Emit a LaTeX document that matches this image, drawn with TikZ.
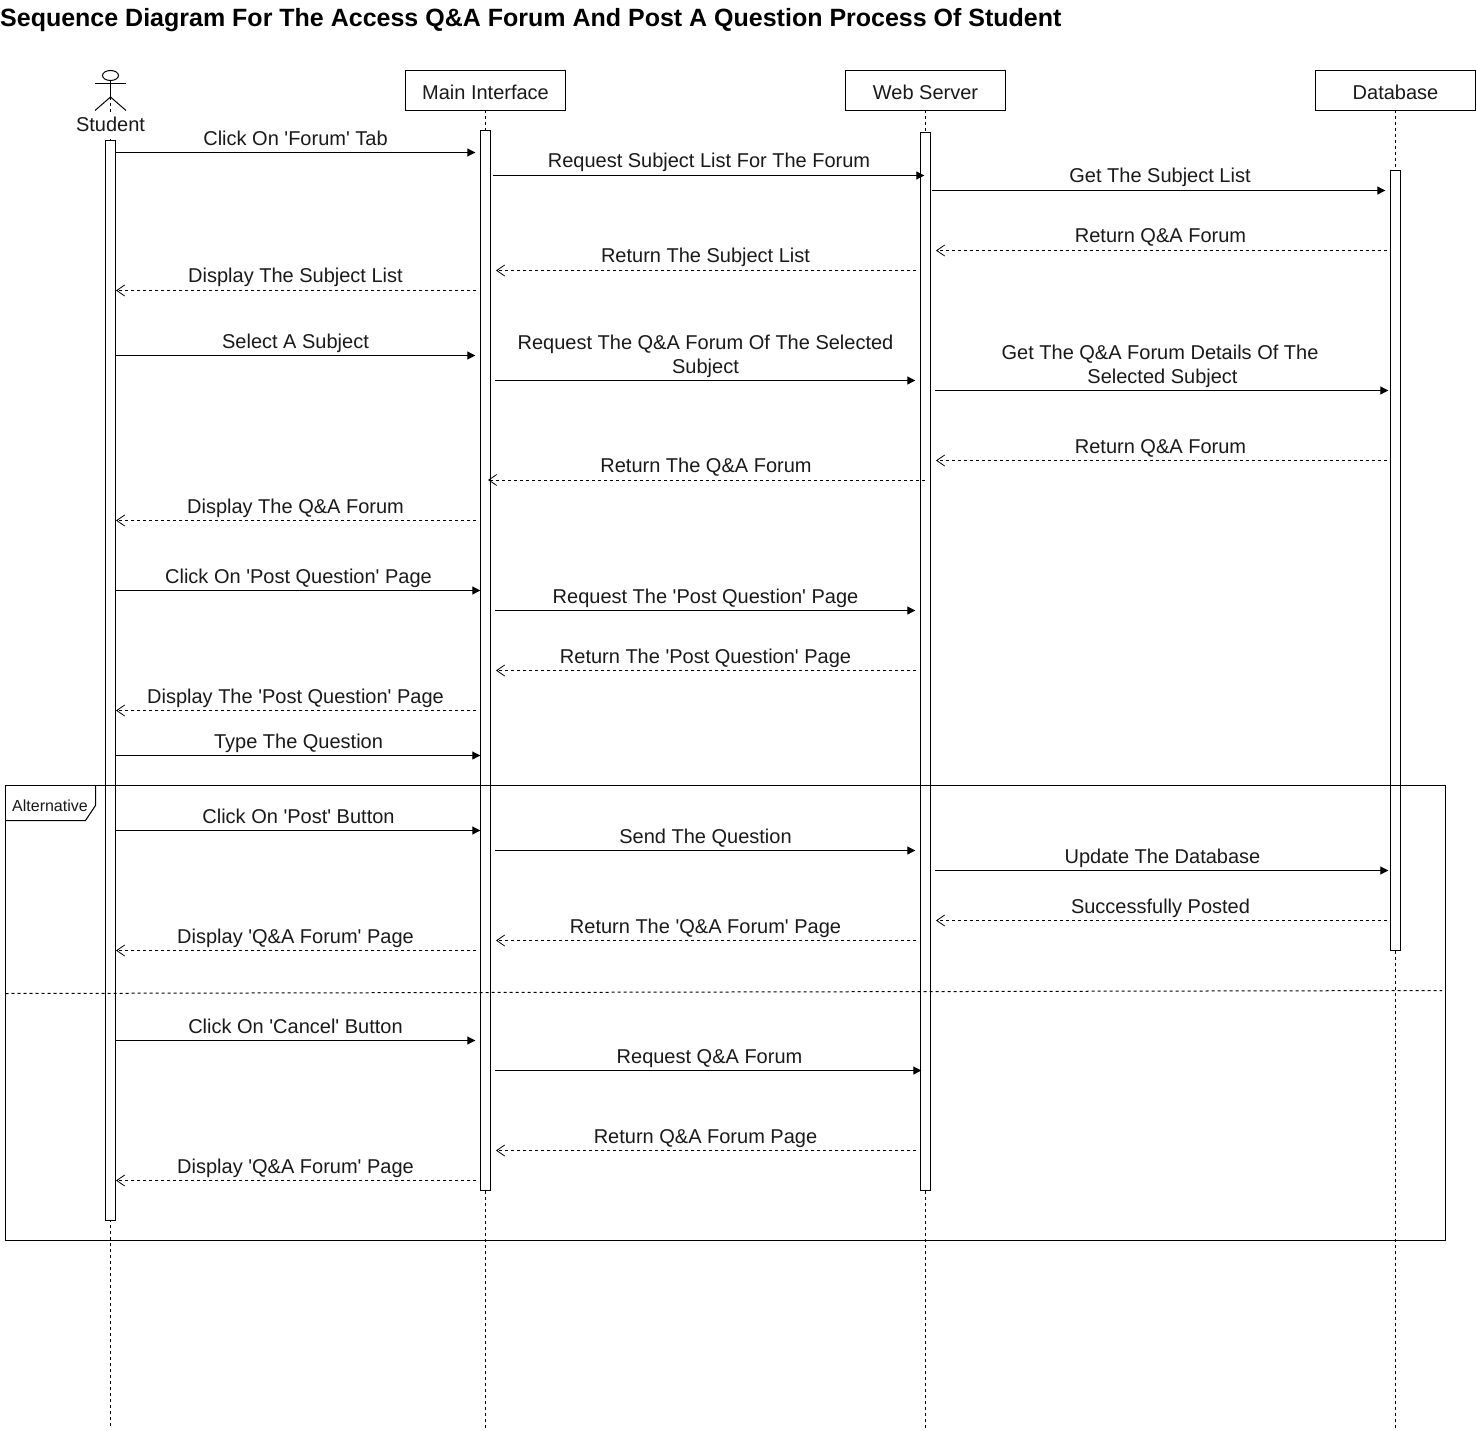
\documentclass[tikz,border=0pt]{standalone}
\usepackage{fontspec}
\newfontfamily\lib{Liberation Sans}
\usetikzlibrary{arrows.meta}
\definecolor{txt}{HTML}{1A1A1A}
\tikzset{
  base/.style={line width=1pt,black},
  life/.style={base,dash pattern=on 3pt off 3pt},
  head/.style={base,draw,fill=white,minimum width=160pt,minimum height=40pt,inner sep=0pt,outer sep=0pt,text=txt,text height=19pt,text depth=0pt,font=\lib\fontsize{20}{24}\selectfont},
  bar/.style={base,draw,fill=white,minimum width=10pt,inner sep=0pt,outer sep=0pt},
  call/.style={base,-{Triangle[length=8pt,width=8pt]},shorten >=0.7pt},
  ret/.style={base,dash pattern=on 3pt off 3pt,-{Straight Barb[length=8pt,width=11pt,line width=0.8pt]}},
  msgtext/.style={text=txt,font=\lib\fontsize{20}{24}\selectfont,inner sep=0pt,align=center,text height=15pt,text depth=1pt},
}
\newcounter{msgno}
\newcommand{\msg}[7]{%
  \stepcounter{msgno}%
  \coordinate (s\arabic{msgno}) at (#2,#4);
  \coordinate (t\arabic{msgno}) at (#3,#4);
  \draw[#1] (s\arabic{msgno}) -- (t\arabic{msgno});
  \node[msgtext] (l\arabic{msgno}) at (#5,#6) {#7};
}
\newcommand{\barbox}[4]{%
  \node[bar,minimum height=#4pt-#3pt,anchor=north] (#1) at (#2,#3) {};
}
\begin{document}
\begin{tikzpicture}[x=1pt,y=-1pt]
\fill[white] (0,0) rectangle (1477,1431);
\useasboundingbox (0,0) rectangle (1477,1431);

\node[anchor=west,inner sep=0pt,text=black,font=\lib\fontsize{25}{29}\selectfont\bfseries] (title) at (0,20.5) {Sequence Diagram For The Access Q\&A Forum And Post A Question Process Of Student};

% lifeline ends
\coordinate (endS) at (110.5,1428);
\coordinate (endM) at (485.5,1428);
\coordinate (endW) at (925.5,1428);
\coordinate (endD) at (1395.5,1428);
\coordinate (foot) at (110.5,97);

% headers
\node[head] (main) at (485.5,90.5) {Main Interface};
\node[head] (web) at (925.5,90.5) {Web Server};
\node[head] (db) at (1395.5,90.5) {Database};

% lifelines
\draw[life] (foot) -- (endS);
\draw[life] (main.south) -- (endM);
\draw[life] (web.south) -- (endW);
\draw[life] (db.south) -- (endD);

% actor
\draw[base] (110.5,75.5) ellipse [x radius=8,y radius=5];
\draw[base] (95,83.5) -- (126,83.5);
\draw[base] (110.5,80.5) -- (foot);
\draw[base] (95,110.5) -- (foot) -- (126,110.5);
\node[msgtext,fill=white,minimum height=24pt] (student) at (110.5,125) {Student};

% activation bars
\barbox{barS}{110.5}{140.5}{1220.5}
\barbox{barM}{485.5}{130.5}{1190.5}
\barbox{barW}{925.5}{132.5}{1190.5}
\barbox{barD}{1395.5}{170.5}{950.5}

% messages
\msg{call}{116}{476}{152.5}{295.5}{139}{Click On 'Forum' Tab}
\msg{call}{493}{925}{175.5}{709}{161}{Request Subject List For The Forum}
\msg{call}{932}{1386}{190.5}{1160}{176}{Get The Subject List}
\msg{ret}{1387}{936}{250.5}{1160.5}{236}{Return Q\&A Forum}
\msg{ret}{916}{496}{270.5}{705.5}{256}{Return The Subject List}
\msg{ret}{476}{116}{290.5}{295.5}{276}{Display The Subject List}
\msg{call}{116}{476}{355.5}{295.5}{341}{Select A Subject}
\msg{call}{495}{916}{380.5}{705.5}{366}{Request The Q\&A Forum Of The Selected\\Subject}
\msg{call}{935}{1389}{390.5}{1160}{376}{Get The Q\&A Forum Details Of The\\\hspace*{5pt}Selected Subject}
\msg{ret}{1387}{936}{460.5}{1160.5}{446}{Return Q\&A Forum}
\msg{ret}{925}{488}{480}{706}{465}{Return The Q\&A Forum}
\msg{ret}{476}{116}{520.5}{295.5}{506}{Display The Q\&A Forum}
\msg{call}{116}{481}{590.5}{298.5}{576}{Click On 'Post Question' Page}
\msg{call}{495}{916}{610.5}{705.5}{596}{Request The 'Post Question' Page}
\msg{ret}{916}{496}{670.5}{705.5}{656}{Return The 'Post Question' Page}
\msg{ret}{476}{116}{710.5}{295.5}{696}{Display The 'Post Question' Page}
\msg{call}{116}{481}{755.5}{298.5}{741}{Type The Question}

% frame
\draw[base] (5.5,785.5) rectangle (1445.5,1240.5);
\draw[base] (5.5,820.5) -- (85.5,820.5) -- (95.5,805.5) -- (95.5,785.5);
\node[text=txt,font=\lib\fontsize{16}{20}\selectfont,inner sep=0pt] (alt) at (50,805.5) {Alternative};
\coordinate (sepL) at (5.5,993.5);
\coordinate (sepR) at (1442,990.5);
\draw[life] (sepL) -- (sepR);

\msg{call}{116}{481}{830.5}{298.5}{816}{Click On 'Post' Button}
\msg{call}{495}{916}{850.5}{705.5}{836}{Send The Question}
\msg{call}{935}{1389}{870.5}{1162.5}{856}{Update The Database}
\msg{ret}{1387}{936}{920.5}{1160.5}{906}{Successfully Posted}
\msg{ret}{916}{496}{940.5}{705.5}{926}{Return The 'Q\&A Forum' Page}
\msg{ret}{476}{116}{950.5}{295.5}{936}{Display 'Q\&A Forum' Page}
\msg{call}{116}{476}{1040.5}{295.5}{1026}{Click On 'Cancel' Button}
\msg{call}{495}{922}{1070.5}{709.5}{1056}{Request Q\&A Forum}
\msg{ret}{916}{496}{1150.5}{705.5}{1136}{Return Q\&A Forum Page}
\msg{ret}{476}{116}{1180.5}{295.5}{1166}{Display 'Q\&A Forum' Page}
\end{tikzpicture}
\end{document}
